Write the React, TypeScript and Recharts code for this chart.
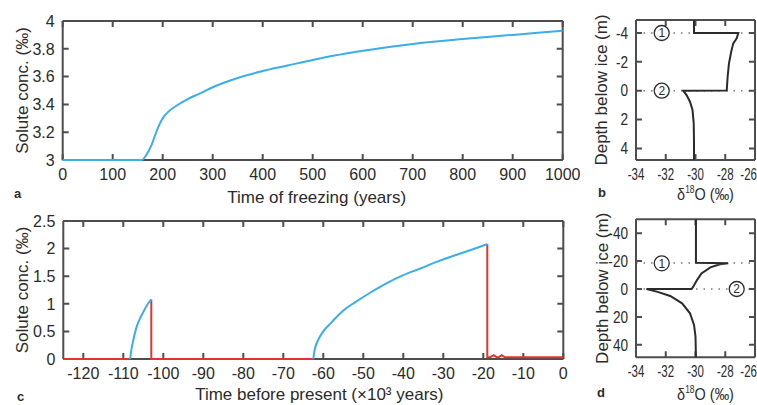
import React from 'react';
import { LineChart, Line, XAxis, YAxis, ReferenceLine, ReferenceDot, Label } from 'recharts';

const FONT = '"Liberation Sans", Arial, Helvetica, sans-serif';
const BLUE = '#3aaeea';
const RED = '#e3342c';
const INK = '#2b2b2b';
const FRAME = '#4d4d4d';

// (a) solute concentration while the lake freezes
const freezeYears = [0, 158, 167, 178, 186, 194, 202, 212, 225, 248, 275, 301, 350, 400, 450, 500, 541, 608, 700, 800, 900, 1000];
const freezeConc = [3, 3, 3.035, 3.11, 3.19, 3.26, 3.31, 3.35, 3.385, 3.435, 3.48, 3.525, 3.59, 3.64, 3.68, 3.72, 3.75, 3.79, 3.835, 3.87, 3.9, 3.93];
const freezeTicks = [0, 100, 200, 300, 400, 500, 600, 700, 800, 900, 1000];
const concTicksA = [3, 3.2, 3.4, 3.6, 3.8, 4];

// (b) isotope profile, short run
const profileBIso = [-30.1, -30.1, -27.12, -27.23, -27.46, -27.6, -27.75, -27.84, -27.9, -30.82, -30.6, -30.37, -30.2, -30.12, -30.1, -30.1];
const profileBDepth = [-4.9, -4.0, -4.0, -3.63, -3.28, -2.7, -1.9, -0.97, -0.02, 0, 0.3, 0.76, 1.34, 2.26, 3.65, 4.8];
const depthTicksB = [-4, -2, 0, 2, 4];

// (c) glacial cycles: freezing phases (blue) and drained/open phases (red)
const freezeOneT = [-108.3, -107.9, -107.5, -106.8, -105.8, -105, -104.2, -103];
const freezeOneC = [0, 0.2, 0.34, 0.55, 0.74, 0.85, 0.96, 1.08];
const freezeTwoT = [-62.5, -62.2, -61.3, -60, -58, -55, -52, -48.3, -44, -40, -35, -31.7, -27, -23.3, -19];
const freezeTwoC = [0, 0.15, 0.34, 0.5, 0.66, 0.88, 1.03, 1.2, 1.38, 1.52, 1.66, 1.76, 1.88, 1.97, 2.08];
const drainT = [-125, -108.3, -108.3, -103, -103, -62.5, -62.5, -19, -19, -18.3, -17.4, -16.6, -16.2, -15.4, -14.6, 0];
const drainC = [0, 0, null, 1.08, 0, 0, null, 2.08, 0.03, 0.03, 0.07, 0.03, 0.03, 0.07, 0.03, 0.03];
const bpTicks = [-120, -110, -100, -90, -80, -70, -60, -50, -40, -30, -20, -10, 0];
const concTicksC = [0, 0.5, 1, 1.5, 2, 2.5];

// (d) isotope profile, full history
const profileDIso = [-29.97, -29.97, -27.8, -28.35, -29.0, -29.6, -29.9, -30.15, -30.26, -33.3, -32.6, -31.7, -30.9, -30.37, -30.1, -30.0, -29.97];
const profileDDepth = [-50, -18.8, -18.4, -17.7, -15.5, -11.2, -6.4, -1.7, 0, 0, 1.9, 5, 10.3, 17.4, 25.8, 34, 49];
const depthTicksD = [-40, -20, 0, 20, 40];

const isoTicks = [-34, -32, -30, -28, -26];

type Pt = { x: number; y: number | null };
const zip = (xs: number[], ys: (number | null)[]): Pt[] => xs.map((x, i) => ({ x, y: ys[i] }));

const TICK_LEN = 6;
const GAP = 8;
const textProps = { fontSize: 16, fill: INK, fontFamily: FONT };
const axisLine = { stroke: FRAME, strokeWidth: 2 };

// tick labels; sx squeezes the glyphs horizontally
const bottomLabel = (sx: number, lastValue?: number, rightLimit?: number) => (p: any) => {
  const v = p.payload.value;
  const atEdge = lastValue !== undefined && v === lastValue && rightLimit !== undefined;
  const tx = atEdge ? rightLimit! : p.x;
  return (
    <text transform={`translate(${tx},${p.y}) scale(${sx},1)`} dy="0.74em" textAnchor={atEdge ? 'end' : 'middle'} {...textProps}>
      {v}
    </text>
  );
};

const leftLabel = (sx: number) => (p: any) => (
  <text transform={`translate(${p.x},${p.y}) scale(${sx},1)`} dy="0.36em" textAnchor="end" {...textProps}>
    {p.payload.value}
  </text>
);

interface BoxOpts {
  xDomain: [number, number];
  xTicks: number[];
  yDomain: [number, number];
  yTicks: number[];
  leftW: number;
  rightW: number;
  topH: number;
  bottomH: number;
  plotW: number;
  plotH: number;
  reversed?: boolean;
  xLabel: React.ReactElement;
  yTitle: string;
  yTitleOffset: number;
  xSquash?: number;
  ySquash?: number;
  edgeRight?: number;
}

// inward tick marks on all four sides: short segments, broken by nulls, drawn as one series
function tickSegments(o: BoxOpts): Pt[] {
  const [x0, x1] = o.xDomain;
  const [y0, y1] = o.yDomain;
  const dx = ((x1 - x0) / o.plotW) * TICK_LEN;
  const dyDown = ((y1 - y0) / o.plotH) * TICK_LEN * (o.reversed ? 1 : -1);
  const yTop = o.reversed ? y0 : y1;
  const yBot = o.reversed ? y1 : y0;
  const pts: Pt[] = [];
  const seg = (ax: number, ay: number, bx: number, by: number) => {
    pts.push({ x: ax, y: ay }, { x: bx, y: by }, { x: bx, y: null });
  };
  o.xTicks.forEach((t) => {
    seg(t, yBot, t, yBot - dyDown);
    seg(t, yTop, t, yTop + dyDown);
  });
  o.yTicks.forEach((t) => {
    seg(x0, t, x0 + dx, t);
    seg(x1, t, x1 - dx, t);
  });
  return pts;
}

// boxed axes: frame on all four sides, labels on bottom/left only
function boxAxes(o: BoxOpts) {
  const lastX = o.xTicks[o.xTicks.length - 1];
  return [
    <XAxis
      key="xb"
      type="number"
      dataKey="x"
      domain={o.xDomain}
      ticks={o.xTicks}
      interval={0}
      height={o.bottomH}
      tickSize={0}
      tickMargin={GAP}
      tick={bottomLabel(o.xSquash ?? 1, o.edgeRight !== undefined ? lastX : undefined, o.edgeRight)}
      tickLine={false}
      axisLine={axisLine}
    >
      {o.xLabel}
    </XAxis>,
    <XAxis
      key="xt"
      xAxisId="top"
      orientation="top"
      type="number"
      domain={o.xDomain}
      ticks={o.xTicks}
      interval={0}
      height={o.topH}
      tick={false}
      tickLine={false}
      axisLine={axisLine}
    />,
    <YAxis
      key="yl"
      type="number"
      domain={o.yDomain}
      ticks={o.yTicks}
      interval={0}
      reversed={o.reversed}
      width={o.leftW}
      tickSize={0}
      tickMargin={GAP}
      tick={leftLabel(o.ySquash ?? 1)}
      tickLine={false}
      axisLine={axisLine}
    >
      <Label
        value={o.yTitle}
        angle={-90}
        position="insideLeft"
        offset={o.yTitleOffset}
        fontSize={17}
        fill={INK}
        fontFamily={FONT}
        style={{ textAnchor: 'middle' }}
      />
    </YAxis>,
    <YAxis
      key="yr"
      yAxisId="right"
      orientation="right"
      type="number"
      domain={o.yDomain}
      ticks={o.yTicks}
      interval={0}
      reversed={o.reversed}
      width={o.rightW}
      tick={false}
      tickLine={false}
      axisLine={axisLine}
    />,
    <Line
      key="ticks"
      data={tickSegments(o)}
      dataKey="y"
      type="linear"
      stroke={FRAME}
      strokeWidth={2}
      dot={false}
      activeDot={false}
      isAnimationActive={false}
      zIndex={550}
    />,
  ];
}

const plainTitle = (value: string, offset: number, dx: number) => (
  <Label value={value} position="insideBottom" offset={offset} dx={dx} fontSize={17} fill={INK} fontFamily={FONT} />
);

// δ18O title with a raised 18, squeezed to the narrow panels
const isoTitle = (offset: number, dx: number) => (
  <Label
    content={(props: any) => {
      const vb = props.viewBox;
      const cx = vb.x + vb.width / 2 + dx;
      const by = vb.y + vb.height - offset;
      return (
        <text transform={`translate(${cx},${by}) scale(0.85,1)`} textAnchor="middle" fontSize={17} fill={INK} fontFamily={FONT}>
          δ
          <tspan dy={-7} fontSize={10}>18</tspan>
          <tspan dy={7}>O (‰)</tspan>
        </text>
      );
    }}
  />
);

const noMargin = { top: 0, right: 0, bottom: 0, left: 0 };

function Marker(x: number, y: number, n: string) {
  return (
    <ReferenceDot
      key={'m' + n}
      x={x}
      y={y}
      r={7.5}
      fill="#fff"
      stroke={INK}
      strokeWidth={1.3}
      zIndex={700}
      label={{ value: n, position: 'center', fontSize: 12, fill: INK, fontFamily: FONT }}
    />
  );
}

const dotted = { stroke: '#777', strokeWidth: 1.5, strokeDasharray: '1.5 6' };
const lineBase = { dataKey: 'y', strokeWidth: 2, dot: false, isAnimationActive: false, zIndex: 600 };

export default function App() {
  const letter = (x: number, y: number, s: string) => (
    <text x={x} y={y} fontSize={13} fontWeight="bold" fill={INK} fontFamily={FONT}>
      {s}
    </text>
  );

  return (
    <div style={{ position: 'absolute', left: 0, top: 0, width: 757, height: 405, background: '#fff', overflow: 'hidden' }}>
      {/* a */}
      <div style={{ position: 'absolute', left: 0, top: 0 }}>
        <LineChart width={580} height={215} margin={noMargin}>
          {boxAxes({
            xDomain: [0, 1000], xTicks: freezeTicks, yDomain: [3, 4], yTicks: concTicksA,
            leftW: 62.7, rightW: 17.3, topH: 21, bottomH: 55, plotW: 500, plotH: 139,
            xLabel: plainTitle('Time of freezing (years)', 12, 4),
            yTitle: 'Solute conc. (‰)', yTitleOffset: 22,
          })}
          <Line {...lineBase} type="monotone" data={zip(freezeYears, freezeConc)} stroke={BLUE} />
        </LineChart>
      </div>

      {/* b */}
      <div style={{ position: 'absolute', left: 580, top: 0 }}>
        <LineChart width={177} height={215} margin={noMargin}>
          {boxAxes({
            xDomain: [-34, -26], xTicks: isoTicks, yDomain: [-4.9, 4.8], yTicks: depthTicksB, reversed: true,
            leftW: 56, rightW: 2, topH: 20, bottomH: 55, plotW: 119, plotH: 140,
            xLabel: isoTitle(15, 10),
            yTitle: 'Depth below ice (m)', yTitleOffset: 21,
            xSquash: 0.72, ySquash: 0.85, edgeRight: 177,
          })}
          <ReferenceLine y={-4} {...dotted} />
          <ReferenceLine y={0} {...dotted} />
          <Line {...lineBase} type="linear" data={zip(profileBIso, profileBDepth)} stroke={INK} />
          {Marker(-32.27, -4, '1')}
          {Marker(-32.27, 0, '2')}
        </LineChart>
      </div>

      {/* c */}
      <div style={{ position: 'absolute', left: 0, top: 200 }}>
        <LineChart width={580} height={205} margin={noMargin}>
          {boxAxes({
            xDomain: [-125, 0], xTicks: bpTicks, yDomain: [0, 2.5], yTicks: concTicksC,
            leftW: 63.3, rightW: 16.7, topH: 21, bottomH: 46, plotW: 500, plotH: 138,
            xLabel: plainTitle('Time before present (×10³ years)', 5, 6),
            yTitle: 'Solute conc. (‰)', yTitleOffset: 22,
          })}
          <Line {...lineBase} type="linear" data={zip(drainT, drainC)} stroke={RED} />
          <Line {...lineBase} type="monotone" data={zip(freezeOneT, freezeOneC)} stroke={BLUE} />
          <Line {...lineBase} type="monotone" data={zip(freezeTwoT, freezeTwoC)} stroke={BLUE} />
        </LineChart>
      </div>

      {/* d */}
      <div style={{ position: 'absolute', left: 580, top: 200 }}>
        <LineChart width={177} height={205} margin={noMargin}>
          {boxAxes({
            xDomain: [-34, -26], xTicks: isoTicks, yDomain: [-50, 49], yTicks: depthTicksD, reversed: true,
            leftW: 56, rightW: 2, topH: 19.3, bottomH: 47.7, plotW: 119, plotH: 138,
            xLabel: isoTitle(5, 10),
            yTitle: 'Depth below ice (m)', yTitleOffset: 22,
            xSquash: 0.72, ySquash: 0.85, edgeRight: 177,
          })}
          <ReferenceLine y={-18.6} {...dotted} />
          <ReferenceLine y={0} {...dotted} />
          <Line {...lineBase} type="linear" data={zip(profileDIso, profileDDepth)} stroke={INK} />
          {Marker(-32.27, -18.4, '1')}
          {Marker(-27.23, 0, '2')}
        </LineChart>
      </div>

      <svg width={757} height={405} style={{ position: 'absolute', left: 0, top: 0, pointerEvents: 'none' }}>
        {letter(14, 198, 'a')}
        {letter(598, 197, 'b')}
        {letter(17, 401, 'c')}
        {letter(597, 397, 'd')}
      </svg>
    </div>
  );
}
